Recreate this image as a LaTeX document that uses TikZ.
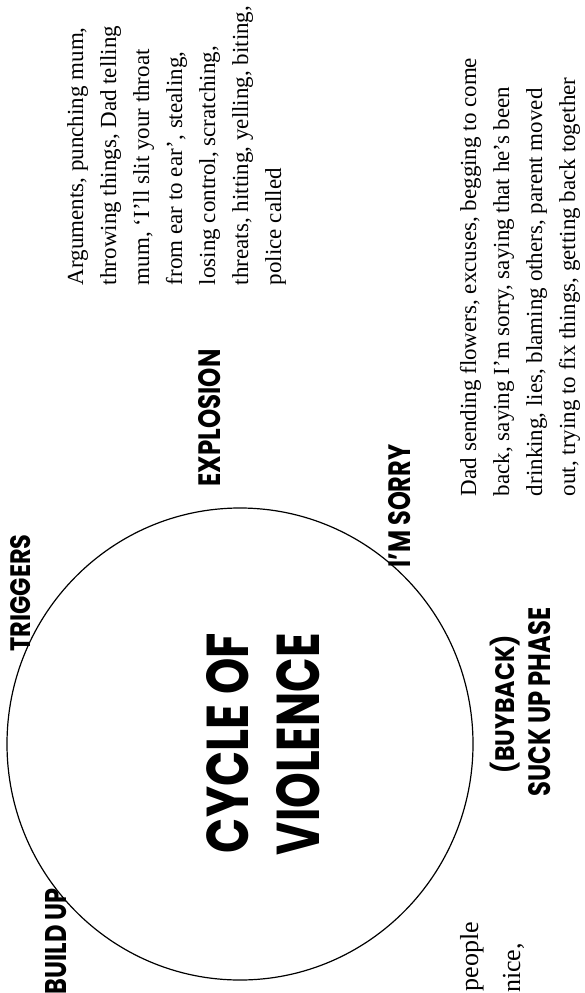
\documentclass[tikz,border=0pt]{standalone}
\usepackage{fontspec}
\usepackage{graphicx}
\usetikzlibrary{shapes.geometric}
\setmainfont{Liberation Serif}
\newfontfamily\lblfont{Poppins}
\newcommand\lblbox[3]{\resizebox{#1}{#2}{\lblfont\bfseries #3}}
\begin{document}
\begin{tikzpicture}[x=1pt,y=-1pt,
  lbl/.style={rotate=90, inner sep=0pt, outer sep=0pt},
  para/.style={rotate=90, inner sep=0pt, outer sep=0pt, anchor=base west, font=\fontsize{23}{27}\selectfont},
  cutpara/.style={rotate=90, inner sep=0pt, outer sep=0pt, anchor=base east, font=\fontsize{26}{30}\selectfont},
  ring/.style={draw=black, line width=1.2pt, ellipse, inner sep=0pt, minimum width=466pt, minimum height=472pt}]
\useasboundingbox (0,0) rectangle (585,993);
\fill[white] (0,0) rectangle (585,993);
\clip (0,0) rectangle (585,993);
% circle
\node[ring] (cycle) at (240,744) {};
% title
\node[lbl] (cyc) at (228,743) {\lblbox{220pt}{42pt}{CYCLE OF}};
\node[lbl] (vio) at (298.5,744) {\lblbox{222pt}{43pt}{VIOLENCE}};
% phase labels
\node[lbl] (trig) at (21,593) {\lblbox{117pt}{20pt}{TRIGGERS}};
\node[lbl] (expl) at (210,418) {\lblbox{137pt}{22pt}{EXPLOSION}};
\node[lbl] (sorry) at (400,506) {\lblbox{123pt}{22pt}{I’M SORRY}};
\node[lbl] (buy) at (505,704) {\resizebox*{138pt}{30pt}{\lblfont\bfseries (BUYBACK)}};
\node[lbl] (suck) at (540,702) {\lblbox{189pt}{22pt}{SUCK UP PHASE}};
\node[lbl] (build) at (56,941) {\lblbox{106pt}{21pt}{BUILD UP}};
% explosion text
\node[para] (a1) at (83,285) {Arguments, punching mum,};
\node[para] (a2) at (116,285) {throwing things, Dad telling};
\node[para] (a3) at (149,285) {mum, ‘I’ll slit your throat};
\node[para] (a4) at (182,285) {from ear to ear’, stealing,};
\node[para] (a5) at (215,285) {losing control, scratching,};
\node[para] (a6) at (248,285) {threats, hitting, yelling, biting,};
\node[para] (a7) at (281,285) {police called};
% suck up text
\node[para] (d1) at (476,496) {Dad sending flowers, excuses, begging to come};
\node[para] (d2) at (509,496) {back, saying I’m sorry, saying that he’s been};
\node[para] (d3) at (542,496) {drinking, lies, blaming others, parent moved};
\node[para] (d4) at (575,496) {out, trying to fix things, getting back together};
% build up text (cut off at the bottom edge)
\node[cutpara] (b1) at (478,922) {people};
\node[cutpara] (b2) at (520,943) {nice,};
\end{tikzpicture}
\end{document}
